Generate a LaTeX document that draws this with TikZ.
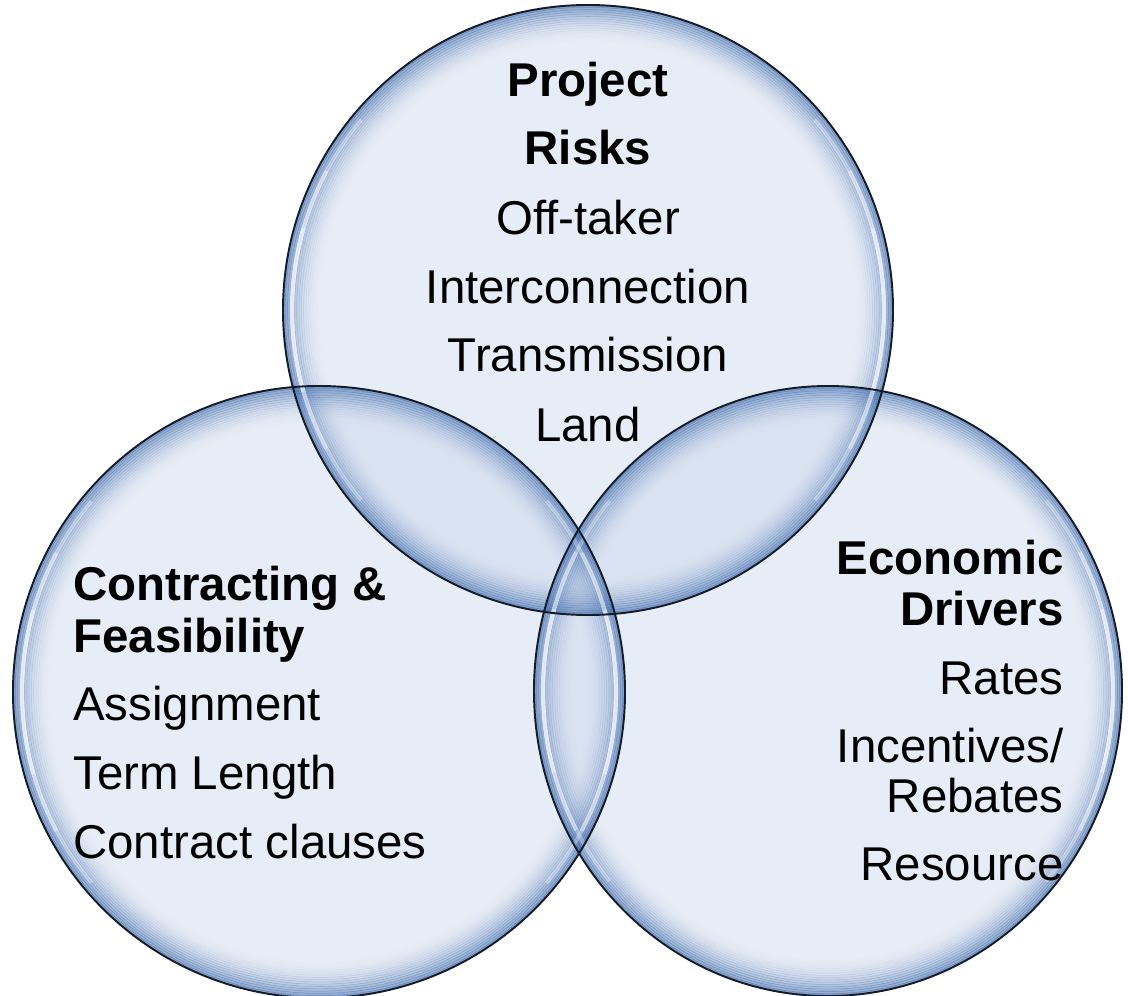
\documentclass[tikz,border=0pt]{standalone}
\usepackage{fontspec}
\setmainfont{Liberation Sans}

\definecolor{bubblefill}{HTML}{C4D2EA}
\definecolor{bubbleedge}{HTML}{3D69AB}
\definecolor{bubbleline}{HTML}{141C28}

\tikzset{
  bubble/.style={fill=bubblefill, fill opacity=0.4},
  head/.style={font=\bfseries\fontsize{27}{30}\selectfont, anchor=base, inner sep=0pt},
  item/.style={font=\fontsize{27}{30}\selectfont, anchor=base, inner sep=0pt},
}

\begin{document}
\begin{tikzpicture}[x=0.02cm,y=-0.02cm]
	\fill[white] (0,0) rectangle (1128,996);
	\useasboundingbox (0,0) rectangle (1128,996);
	\coordinate (T) at (588,310);
	\coordinate (L) at (319,692);
	\coordinate (R) at (828,691);
	% glass bubbles
	\foreach \c/\rx/\ry in {T/305/305,L/306/306,R/294/305}
		\fill[bubble] (\c) ellipse [x radius=\rx, y radius=\ry];
	\foreach \c/\rx/\ry in {T/305/305,L/306/306,R/294/305}
		\foreach \k in {1,...,16} {
			\pgfmathsetmacro\op{0.62*(1-\k/17)^2}
			\draw[bubbleedge, line width=1.6pt, draw opacity=\op] (\c) ellipse [x radius=\rx-2.3*\k+1.15, y radius=\ry-2.3*\k+1.15];
		}
	\foreach \c/\rx/\ry in {T/305/305,L/306/306,R/294/305}
		\foreach \s/\o in {40/0.3,28/0.35,16/0.4} {
			\draw[white, line width=2.4pt, draw opacity=\o] (\c) ++(-\s:\rx-9 and \ry-9) arc [start angle=-\s, end angle=\s, x radius=\rx-9, y radius=\ry-9];
			\draw[white, line width=2.4pt, draw opacity=\o] (\c) ++(180-\s:\rx-9 and \ry-9) arc [start angle=180-\s, end angle=180+\s, x radius=\rx-9, y radius=\ry-9];
		}
	\foreach \c/\rx/\ry in {T/305/305,L/306/306,R/294/305}
		\draw[bubbleline, line width=1.1pt] (\c) ellipse [x radius=\rx, y radius=\ry];
	% texts
	\foreach \t/\y [count=\i] in {Project/97,Risks/165}
		\node[head] (risk-h\i) at (588,\y) {\t};
	\foreach \t/\y [count=\i] in {Off-taker/235,Interconnection/304,Transmission/372,Land/441}
		\node[item] (risk\i) at (588,\y) {\t};
	\foreach \t/\y [count=\i] in {Contracting \&/600,Feasibility/652}
		\node[head, anchor=base west] (contract-h\i) at (73,\y) {\t};
	\foreach \t/\y [count=\i] in {Assignment/720,Term Length/789,Contract clauses/858}
		\node[item, anchor=base west] (contract\i) at (73,\y) {\t};
	\foreach \t/\y [count=\i] in {Economic/574,Drivers/625}
		\node[head, anchor=base east] (econ-h\i) at (1064,\y) {\t};
	\foreach \t/\y [count=\i] in {Rates/694,{Incentives/}/762,Rebates/812,Resource/880}
		\node[item, anchor=base east] (econ\i) at (1064,\y) {\t};
\end{tikzpicture}
\end{document}
